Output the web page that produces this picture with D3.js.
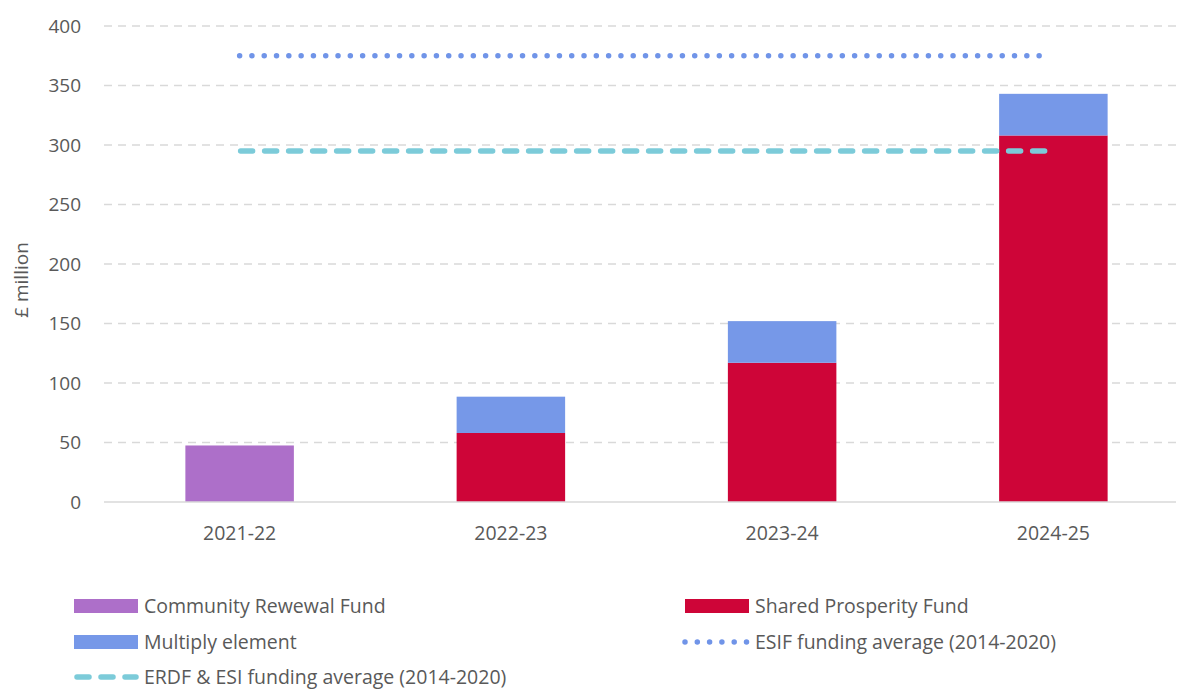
<!DOCTYPE html>
<html lang="en">
<head>
<meta charset="UTF-8">
<title>Funding chart</title>
<script src="https://d3js.org/d3.v7.min.js"></script>
<style>
  body { margin: 0; background: #fff; }
  svg text { font-family: 'Open Sans', 'Lato', sans-serif; fill: #595959; }
</style>
</head>
<body>
<script>
// data
const years = ["2021-22", "2022-23", "2023-24", "2024-25"];
const community = [47.5, 0, 0, 0];
const shared = [0, 58, 117, 308];
const multiply = [0, 30.5, 35, 35];
const esifAvg = 375;
const erdfAvg = 295;
const yTicks = [0, 50, 100, 150, 200, 250, 300, 350, 400];

const colors = {
  community: "#ad6fc9",
  shared: "#ce0538",
  multiply: "#7698e8",
  esif: "#7094e8",
  erdf: "#7ccbd9"
};

const W = 1181, H = 691;
const svg = d3.select("body").append("svg")
  .attr("width", W).attr("height", H);

const x = d3.scaleBand()
  .domain(years)
  .range([104, 1189])
  .paddingInner(0.6)
  .paddingOuter(0.3);

const y = d3.scaleLinear()
  .domain([0, 400])
  .range([502, 26]);

// grid lines
svg.append("g")
  .selectAll("line")
  .data(yTicks.filter(d => d > 0))
  .enter().append("line")
  .attr("x1", 104).attr("x2", 1176)
  .attr("y1", d => y(d)).attr("y2", d => y(d))
  .attr("stroke", "#d9d9d9")
  .attr("stroke-width", 1.3)
  .attr("stroke-dasharray", "8,6");

// y axis labels
const yAxis = svg.append("g")
  .attr("transform", "translate(90,0)")
  .call(d3.axisLeft(y).tickValues(yTicks).tickSize(0).tickPadding(9));
yAxis.select(".domain").remove();
yAxis.selectAll("text")
  .style("font-size", "19px")
  .attr("fill", "#595959");

svg.append("text")
  .attr("transform", "translate(28,280) rotate(-90)")
  .attr("text-anchor", "middle")
  .style("font-size", "19px")
  .text("£ million");

// stacked bars
const rows = years.map((yr, i) => ({
  year: yr, community: community[i], shared: shared[i], multiply: multiply[i]
}));
const keys = ["community", "shared", "multiply"];
const stacked = d3.stack().keys(keys)(rows);

svg.append("g")
  .selectAll("g")
  .data(stacked)
  .enter().append("g")
  .attr("fill", d => colors[d.key])
  .selectAll("rect")
  .data(d => d.filter(p => p[1] > p[0]))
  .enter().append("rect")
  .attr("x", d => x(d.data.year))
  .attr("width", x.bandwidth())
  .attr("y", d => y(d[1]))
  .attr("height", d => y(d[0]) - y(d[1]));

// x axis baseline + labels
const xAxis = svg.append("g")
  .attr("transform", `translate(0,${y(0)})`)
  .call(d3.axisBottom(x).tickSize(0).tickPadding(24));
xAxis.select(".domain")
  .attr("stroke", "#d9d9d9")
  .attr("stroke-width", 1.5)
  .attr("d", "M104,0H1176");
xAxis.selectAll("text")
  .style("font-size", "19.5px")
  .attr("fill", "#595959");

// average lines
const cx = d => x(d) + x.bandwidth() / 2;
const xStart = cx(years[0]), xEnd = cx(years[years.length - 1]) - 4;

svg.append("line")
  .attr("x1", xStart).attr("x2", xEnd)
  .attr("y1", y(esifAvg)).attr("y2", y(esifAvg))
  .attr("stroke", colors.esif)
  .attr("stroke-width", 5.5)
  .attr("stroke-linecap", "round")
  .attr("stroke-dasharray", "0,12.3");

svg.append("line")
  .attr("x1", xStart + 1).attr("x2", xEnd - 4)
  .attr("y1", y(erdfAvg)).attr("y2", y(erdfAvg))
  .attr("stroke", colors.erdf)
  .attr("stroke-width", 5.5)
  .attr("stroke-linecap", "round")
  .attr("stroke-dasharray", "12,12");

// legend
const legend = [
  { label: "Community Rewewal Fund", type: "rect", color: colors.community, lx: 74, ly: 606 },
  { label: "Shared Prosperity Fund", type: "rect", color: colors.shared, lx: 685, ly: 606 },
  { label: "Multiply element", type: "rect", color: colors.multiply, lx: 74, ly: 642 },
  { label: "ESIF funding average (2014-2020)", type: "dot", color: colors.esif, lx: 685, ly: 642 },
  { label: "ERDF & ESI funding average (2014-2020)", type: "dash", color: colors.erdf, lx: 74, ly: 677 }
];

const lg = svg.append("g").selectAll("g")
  .data(legend)
  .enter().append("g")
  .attr("transform", d => `translate(${d.lx},${d.ly})`);

lg.filter(d => d.type === "rect").append("rect")
  .attr("x", 0).attr("y", -7)
  .attr("width", 64).attr("height", 14)
  .attr("fill", d => d.color);

lg.filter(d => d.type === "dot").append("line")
  .attr("x1", 0).attr("x2", 64)
  .attr("stroke", d => d.color)
  .attr("stroke-width", 5.5)
  .attr("stroke-linecap", "round")
  .attr("stroke-dasharray", "0,12.3");

lg.filter(d => d.type === "dash").append("line")
  .attr("x1", 3).attr("x2", 62)
  .attr("stroke", d => d.color)
  .attr("stroke-width", 5.5)
  .attr("stroke-linecap", "round")
  .attr("stroke-dasharray", "12,12");

lg.append("text")
  .attr("x", 70)
  .attr("dy", "0.35em")
  .style("font-size", "19.5px")
  .text(d => d.label);
</script>
</body>
</html>
